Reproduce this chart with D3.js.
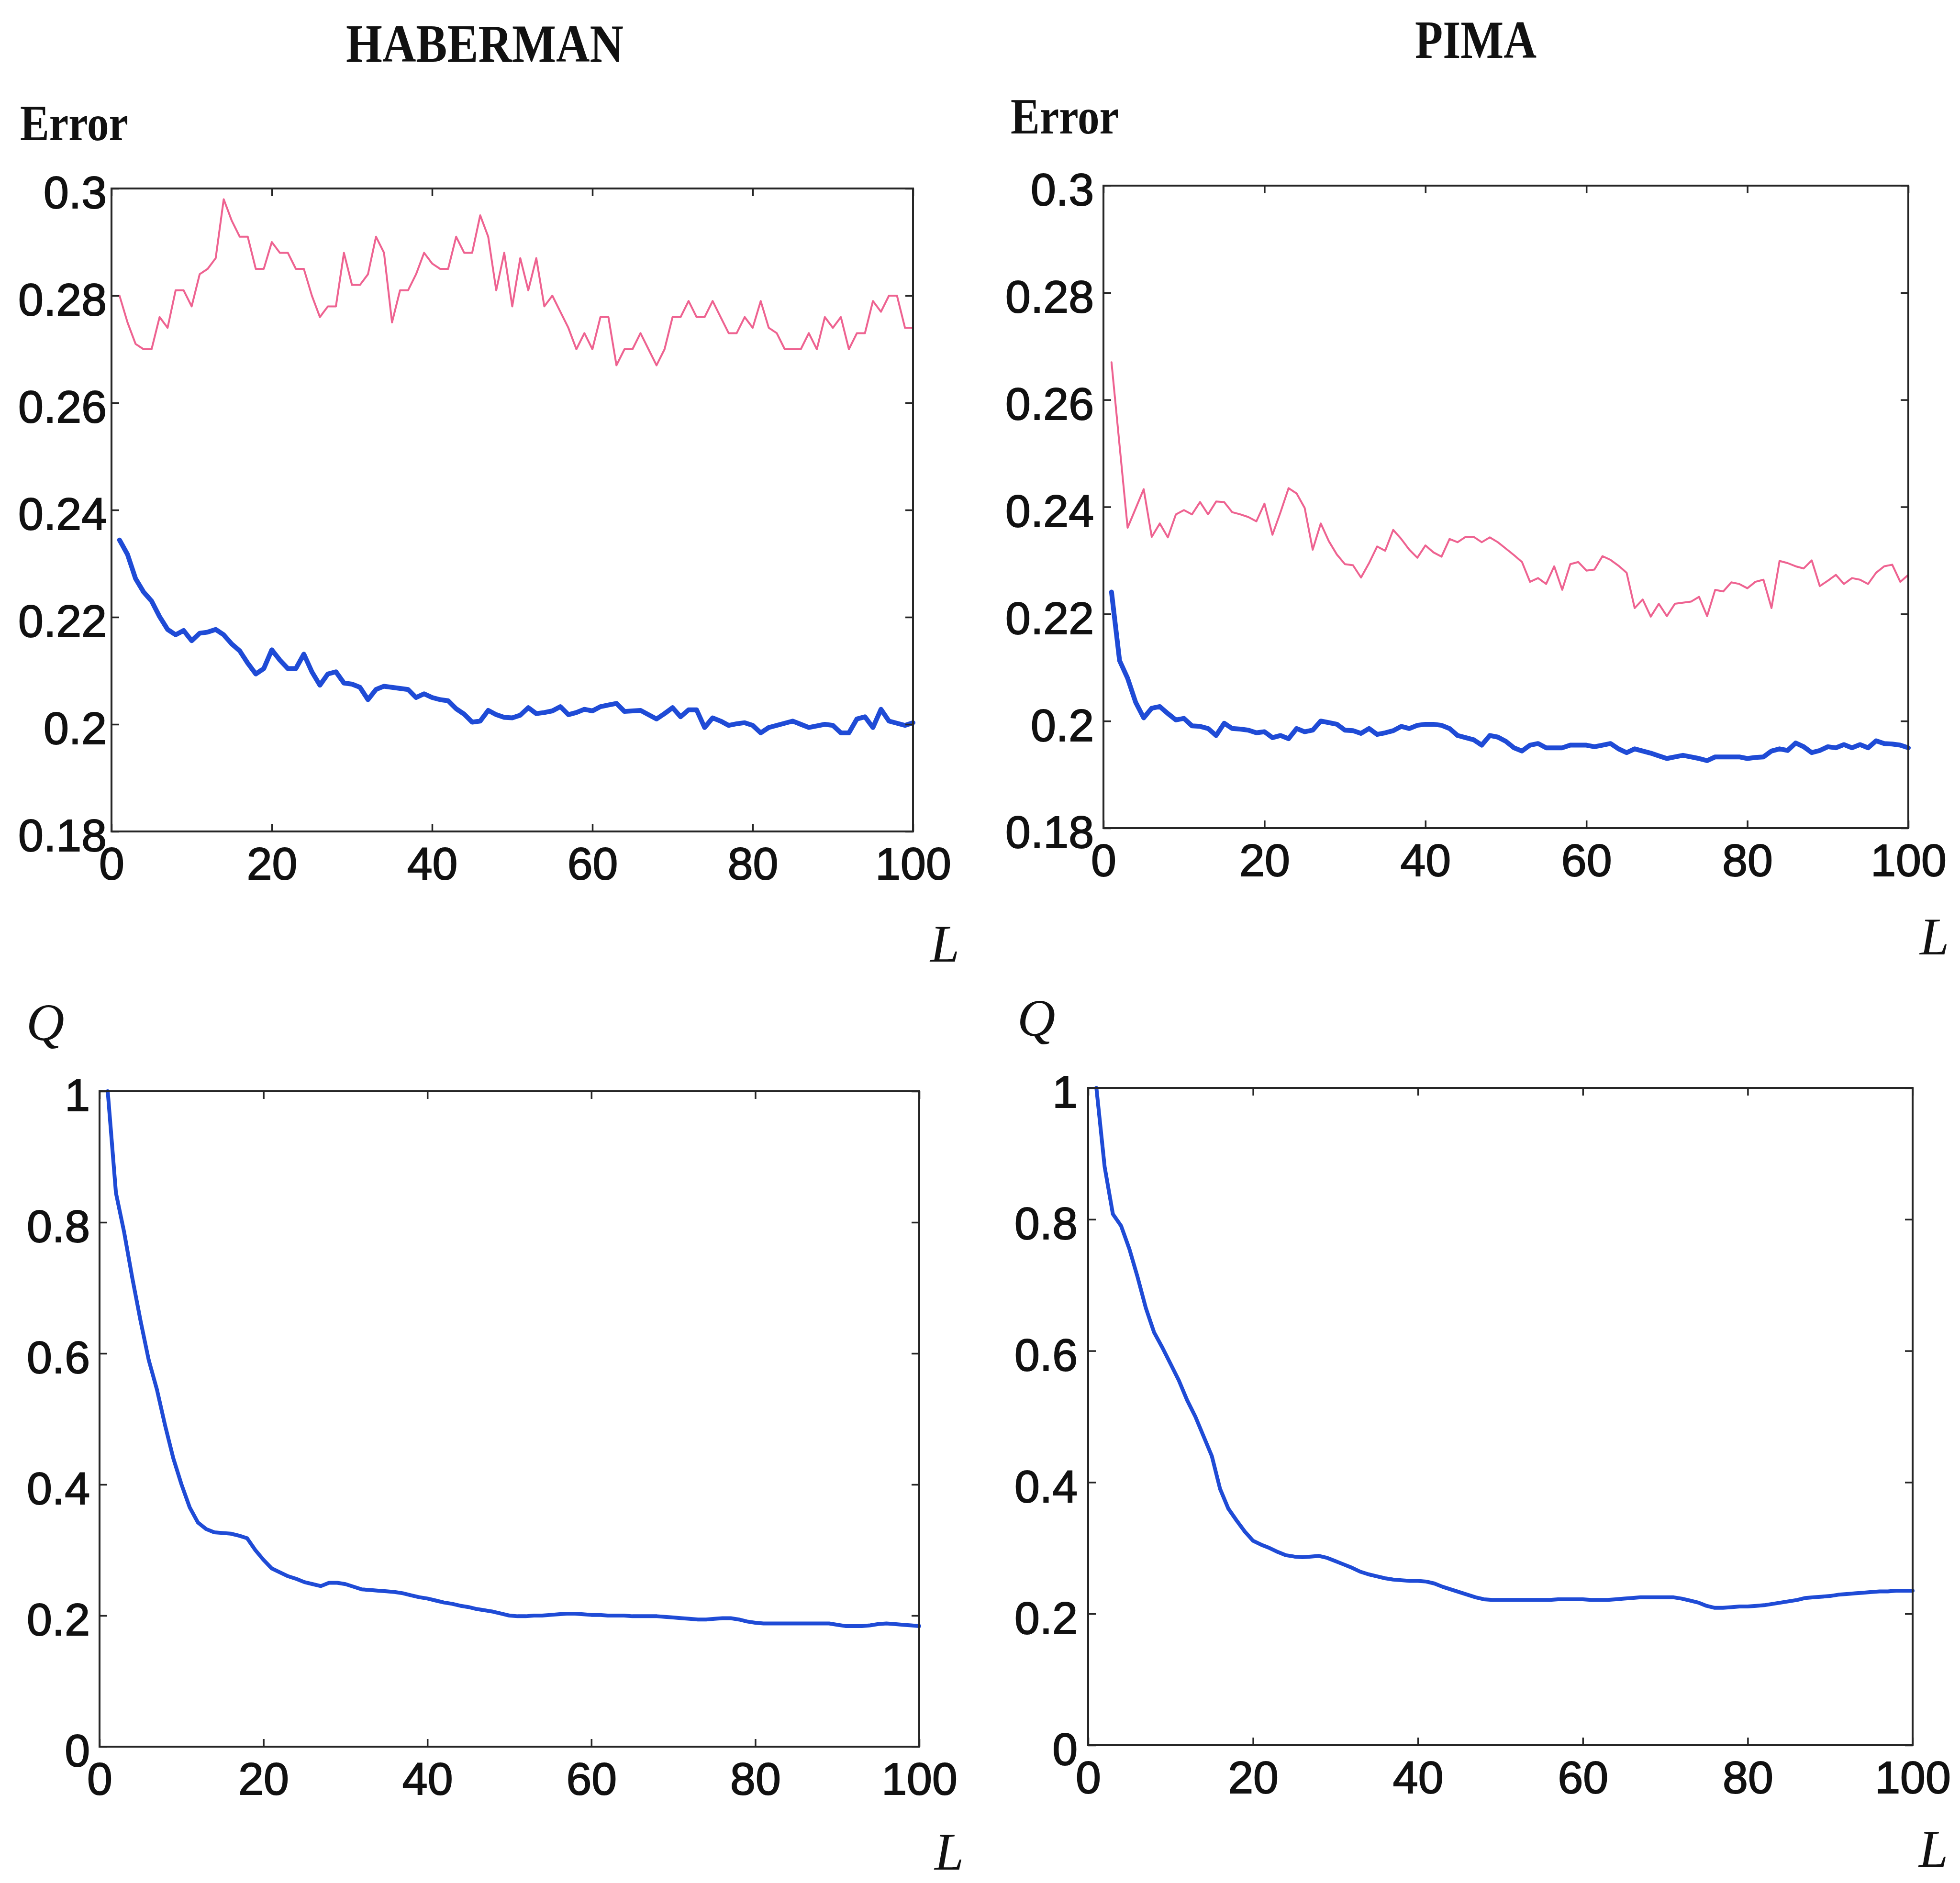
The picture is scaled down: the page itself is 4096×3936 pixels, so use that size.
<!DOCTYPE html>
<html>
<head>
<meta charset="utf-8">
<script src="https://cdn.jsdelivr.net/npm/d3@7"></script>
<style>
  html, body { margin: 0; padding: 0; background: #ffffff; }
  svg { display: block; }
</style>
</head>
<body>
<svg id="fig" width="4096" height="3936"></svg>
<script>
// Number of combined classifiers
const rounds = d3.range(1, 101);

// Axis ticks
const lTicks = [0, 20, 40, 60, 80, 100];
const lTickLabels = ["0", "20", "40", "60", "80", "100"];
const errTicks = [0.18, 0.2, 0.22, 0.24, 0.26, 0.28, 0.3];
const errTickLabels = ["0.18", "0.2", "0.22", "0.24", "0.26", "0.28", "0.3"];
const qTicks = [0, 0.2, 0.4, 0.6, 0.8, 1];
const qTickLabels = ["0", "0.2", "0.4", "0.6", "0.8", "1"];

// HABERMAN: testing error (pink) and training error (blue)
const habermanTestError = [
  0.280,0.275,0.271,0.270,0.270,0.276,0.274,0.281,0.281,0.278,
  0.284,0.285,0.287,0.298,0.294,0.291,0.291,0.285,0.285,0.290,
  0.288,0.288,0.285,0.285,0.280,0.276,0.278,0.278,0.288,0.282,
  0.282,0.284,0.291,0.288,0.275,0.281,0.281,0.284,0.288,0.286,
  0.285,0.285,0.291,0.288,0.288,0.295,0.291,0.281,0.288,0.278,
  0.287,0.281,0.287,0.278,0.280,0.277,0.274,0.270,0.273,0.270,
  0.276,0.276,0.267,0.270,0.270,0.273,0.270,0.267,0.270,0.276,
  0.276,0.279,0.276,0.276,0.279,0.276,0.273,0.273,0.276,0.274,
  0.279,0.274,0.273,0.270,0.270,0.270,0.273,0.270,0.276,0.274,
  0.276,0.270,0.273,0.273,0.279,0.277,0.280,0.280,0.274,0.274
];
const habermanTrainError = [
  0.2344,0.2317,0.2272,0.2247,0.2230,0.2201,0.2177,0.2167,0.2175,0.2156,
  0.2170,0.2172,0.2177,0.2167,0.2150,0.2137,0.2114,0.2094,0.2104,0.2139,
  0.2120,0.2104,0.2104,0.2131,0.2098,0.2073,0.2094,0.2098,0.2077,0.2075,
  0.2069,0.2046,0.2065,0.2071,0.2069,0.2067,0.2065,0.2050,0.2057,0.2050,
  0.2046,0.2044,0.2029,0.2019,0.2004,0.2006,0.2026,0.2018,0.2013,0.2012,
  0.2017,0.2031,0.2020,0.2022,0.2025,0.2033,0.2018,0.2022,0.2028,0.2025,
  0.2033,0.2036,0.2039,0.2024,0.2025,0.2026,0.2018,0.2010,0.2020,0.2031,
  0.2014,0.2027,0.2027,0.1994,0.2012,0.2006,0.1998,0.2001,0.2003,0.1998,
  0.1984,0.1994,0.1998,0.2002,0.2006,0.2000,0.1994,0.1997,0.2000,0.1998,
  0.1984,0.1984,0.2010,0.2014,0.1994,0.2028,0.2006,0.2002,0.1998,0.2003
];

// PIMA: testing error (pink) and training error (blue)
const pimaTestError = [
  0.2670,0.2515,0.2361,0.2397,0.2433,0.2344,0.2369,0.2343,0.2386,0.2394,
  0.2386,0.2409,0.2386,0.2410,0.2409,0.2390,0.2386,0.2381,0.2373,0.2406,
  0.2348,0.2390,0.2435,0.2425,0.2398,0.2320,0.2369,0.2336,0.2311,0.2293,
  0.2291,0.2268,0.2295,0.2326,0.2318,0.2357,0.2340,0.2320,0.2305,0.2328,
  0.2315,0.2307,0.2340,0.2334,0.2344,0.2344,0.2334,0.2343,0.2334,0.2322,
  0.2310,0.2297,0.2260,0.2267,0.2256,0.2289,0.2245,0.2293,0.2297,0.2281,
  0.2283,0.2308,0.2301,0.2290,0.2277,0.2211,0.2227,0.2195,0.2219,0.2196,
  0.2219,0.2221,0.2223,0.2232,0.2196,0.2245,0.2242,0.2259,0.2256,0.2248,
  0.2260,0.2264,0.2211,0.2299,0.2295,0.2289,0.2285,0.2300,0.2252,0.2262,
  0.2273,0.2256,0.2267,0.2264,0.2256,0.2277,0.2289,0.2292,0.2260,0.2273
];
const pimaTrainError = [
  0.2241,0.2113,0.2080,0.2035,0.2006,0.2024,0.2027,0.2014,0.2002,0.2005,
  0.1991,0.1990,0.1986,0.1973,0.1996,0.1986,0.1985,0.1983,0.1978,0.1980,
  0.1969,0.1973,0.1967,0.1986,0.1980,0.1983,0.2000,0.1997,0.1994,0.1983,
  0.1982,0.1977,0.1986,0.1975,0.1978,0.1982,0.1990,0.1986,0.1992,0.1994,
  0.1994,0.1992,0.1986,0.1973,0.1969,0.1965,0.1955,0.1973,0.1970,0.1962,
  0.1950,0.1944,0.1955,0.1958,0.1950,0.1950,0.1950,0.1955,0.1955,0.1955,
  0.1952,0.1955,0.1958,0.1948,0.1941,0.1948,0.1944,0.1940,0.1935,0.1930,
  0.1933,0.1936,0.1933,0.1930,0.1926,0.1933,0.1933,0.1933,0.1933,0.1930,
  0.1932,0.1933,0.1944,0.1948,0.1945,0.1959,0.1952,0.1941,0.1945,0.1952,
  0.1950,0.1956,0.1950,0.1956,0.1950,0.1963,0.1958,0.1957,0.1955,0.1950
];

// Averaged Q statistic of the ensemble
const habermanQ = [
  1.000,0.845,0.785,0.715,0.650,0.590,0.545,0.490,0.440,0.400,
  0.365,0.342,0.332,0.327,0.326,0.325,0.322,0.318,0.300,0.285,
  0.272,0.266,0.260,0.256,0.251,0.248,0.245,0.250,0.250,0.248,
  0.244,0.240,0.239,0.238,0.237,0.236,0.234,0.231,0.228,0.226,
  0.223,0.220,0.218,0.215,0.213,0.210,0.208,0.206,0.203,0.200,
  0.199,0.199,0.200,0.200,0.201,0.202,0.203,0.203,0.202,0.201,
  0.201,0.200,0.200,0.200,0.199,0.199,0.199,0.199,0.198,0.197,
  0.196,0.195,0.194,0.194,0.195,0.196,0.196,0.194,0.191,0.189,
  0.188,0.188,0.188,0.188,0.188,0.188,0.188,0.188,0.188,0.186,
  0.184,0.184,0.184,0.185,0.187,0.188,0.187,0.186,0.185,0.184
];
const pimaQ = [
  1.000,0.880,0.808,0.790,0.755,0.712,0.665,0.628,0.605,0.580,
  0.555,0.525,0.500,0.470,0.440,0.390,0.360,0.342,0.325,0.311,
  0.305,0.300,0.294,0.289,0.287,0.286,0.287,0.288,0.285,0.280,
  0.275,0.270,0.264,0.260,0.257,0.254,0.252,0.251,0.250,0.250,
  0.249,0.246,0.241,0.237,0.233,0.229,0.225,0.222,0.221,0.221,
  0.221,0.221,0.221,0.221,0.221,0.221,0.222,0.222,0.222,0.222,
  0.221,0.221,0.221,0.222,0.223,0.224,0.225,0.225,0.225,0.225,
  0.225,0.223,0.220,0.217,0.212,0.209,0.209,0.210,0.211,0.211,
  0.212,0.213,0.215,0.217,0.219,0.221,0.224,0.225,0.226,0.227,
  0.229,0.230,0.231,0.232,0.233,0.234,0.234,0.235,0.235,0.235
];

const PINK = "#ee6391";
const BLUE = "#1f4bd6";
const INK = "#262626";
const SANS = "'Liberation Sans', Arial, Helvetica, sans-serif";
const SERIF = "'Liberation Serif', 'Times New Roman', serif";

const svg = d3.select("#fig");
svg.append("rect").attr("width", 4096).attr("height", 3936).attr("fill", "#ffffff");

const panels = [
  { left: 233, right: 1908, top: 394, bottom: 1738, yDomain: [0.18, 0.3],
    yTicks: errTicks, yLabels: errTickLabels, labelGap: 10,
    series: [ { values: habermanTestError, color: PINK, width: 4 },
              { values: habermanTrainError, color: BLUE, width: 10 } ] },
  { left: 2306, right: 3988, top: 388, bottom: 1731, yDomain: [0.18, 0.3],
    yTicks: errTicks, yLabels: errTickLabels, labelGap: 20,
    series: [ { values: pimaTestError, color: PINK, width: 4 },
              { values: pimaTrainError, color: BLUE, width: 10 } ] },
  { left: 208, right: 1921, top: 2281, bottom: 3651, yDomain: [0, 1],
    yTicks: qTicks, yLabels: qTickLabels, labelGap: 20,
    series: [ { values: habermanQ, color: BLUE, width: 8 } ] },
  { left: 2274, right: 3997, top: 2274, bottom: 3648, yDomain: [0, 1],
    yTicks: qTicks, yLabels: qTickLabels, labelGap: 22,
    series: [ { values: pimaQ, color: BLUE, width: 8 } ] }
];

const TICK = 16;
const FONT_TICK = 95;

panels.forEach(p => {
  const x = d3.scaleLinear().domain([0, 100]).range([p.left, p.right]);
  const y = d3.scaleLinear().domain(p.yDomain).range([p.bottom, p.top]);
  const g = svg.append("g");

  // data lines
  p.series.forEach(s => {
    const line = d3.line()
      .x((d, i) => x(rounds[i]))
      .y(d => y(d));
    g.append("path")
      .datum(s.values)
      .attr("d", line)
      .attr("fill", "none")
      .attr("stroke", s.color)
      .attr("stroke-width", s.width)
      .attr("stroke-linejoin", "round")
      .attr("stroke-linecap", "round");
  });

  // inward ticks on all four sides
  const styleAxis = sel => {
    sel.select(".domain").remove();
    sel.selectAll(".tick line").attr("stroke", INK).attr("stroke-width", 3.5);
  };
  const styleLabels = sel => sel.selectAll(".tick text")
    .attr("font-family", SANS).attr("font-size", FONT_TICK)
    .attr("fill", "#111").attr("stroke", "#111").attr("stroke-width", 2);

  g.append("g").attr("transform", `translate(0,${p.bottom})`)
    .call(d3.axisBottom(x).tickValues(lTicks).tickSizeInner(-TICK).tickSizeOuter(0)
      .tickPadding(33).tickFormat((d, i) => lTickLabels[i]))
    .call(styleAxis)
    .call(styleLabels)
    .call(sel => sel.selectAll(".tick text").attr("dy", "0.71em"));
  g.append("g").attr("transform", `translate(0,${p.top})`)
    .call(d3.axisTop(x).tickValues(lTicks).tickSizeInner(-TICK).tickSizeOuter(0).tickFormat(""))
    .call(styleAxis);
  g.append("g").attr("transform", `translate(${p.left},0)`)
    .call(d3.axisLeft(y).tickValues(p.yTicks).tickSizeInner(-TICK).tickSizeOuter(0)
      .tickPadding(p.labelGap).tickFormat((d, i) => p.yLabels[i]))
    .call(styleAxis)
    .call(styleLabels)
    .call(sel => sel.selectAll(".tick text").attr("dy", "0.43em"));
  g.append("g").attr("transform", `translate(${p.right},0)`)
    .call(d3.axisRight(y).tickValues(p.yTicks).tickSizeInner(-TICK).tickSizeOuter(0).tickFormat(""))
    .call(styleAxis);

  // plot frame
  g.append("rect")
    .attr("x", p.left).attr("y", p.top)
    .attr("width", p.right - p.left).attr("height", p.bottom - p.top)
    .attr("fill", "none").attr("stroke", INK).attr("stroke-width", 4);
});

// titles and axis names
const texts = [
  { t: "HABERMAN", x: 1013, y: 129, size: 112, style: "normal", weight: "bold", anchor: "middle", len: 580 },
  { t: "PIMA", x: 3084, y: 121, size: 112, style: "normal", weight: "bold", anchor: "middle", len: 254 },
  { t: "Error", x: 42, y: 293, size: 106, style: "normal", weight: "bold", anchor: "start", len: 226 },
  { t: "Error", x: 2112, y: 279, size: 106, style: "normal", weight: "bold", anchor: "start", len: 226 },
  { t: "L", x: 1944, y: 2010, size: 110, style: "italic", weight: "normal", anchor: "start" },
  { t: "L", x: 4012, y: 1995, size: 110, style: "italic", weight: "normal", anchor: "start" },
  { t: "Q", x: 55, y: 2174, size: 110, style: "italic", weight: "normal", anchor: "start" },
  { t: "Q", x: 2126, y: 2165, size: 110, style: "italic", weight: "normal", anchor: "start" },
  { t: "L", x: 1953, y: 3908, size: 110, style: "italic", weight: "normal", anchor: "start" },
  { t: "L", x: 4010, y: 3902, size: 110, style: "italic", weight: "normal", anchor: "start" }
];
texts.forEach(d => {
  const el = svg.append("text")
    .attr("x", d.x).attr("y", d.y)
    .attr("font-family", SERIF)
    .attr("font-size", d.size)
    .attr("font-style", d.style)
    .attr("font-weight", d.weight)
    .attr("text-anchor", d.anchor)
    .attr("fill", "#111")
    .text(d.t);
  if (d.len) el.attr("textLength", d.len).attr("lengthAdjust", "spacingAndGlyphs");
});
</script>
</body>
</html>
